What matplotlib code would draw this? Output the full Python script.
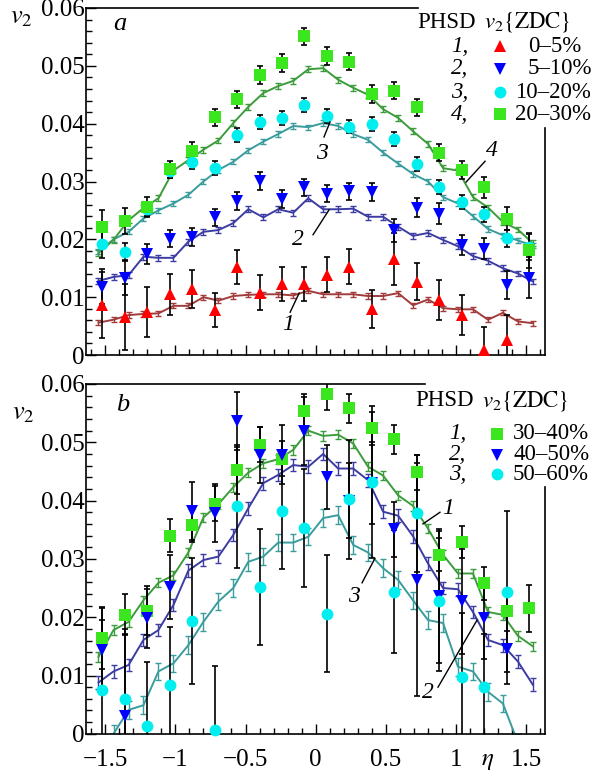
import numpy as np
import matplotlib
matplotlib.use('Agg')
import matplotlib.pyplot as plt
from matplotlib.lines import Line2D
from matplotlib.ticker import FixedLocator, MultipleLocator, FixedFormatter

plt.rcParams['font.family'] = ['Liberation Serif', 'DejaVu Serif']
plt.rcParams['mathtext.fontset'] = 'stix'

nan = np.nan
# ---------------- data ----------------
eta_data = [-1.52, -1.36, -1.20, -1.04, -0.88, -0.72, -0.56, -0.40, -0.24, -0.08,
            0.08, 0.24, 0.40, 0.56, 0.72, 0.88, 1.04, 1.20, 1.36, 1.52]
eta_model = [-1.547, -1.440, -1.333, -1.227, -1.120, -1.013, -0.907, -0.800, -0.693, -0.587,
             -0.480, -0.373, -0.267, -0.160, -0.053, 0.053, 0.160, 0.267, 0.373, 0.480,
             0.587, 0.693, 0.800, 0.907, 1.013, 1.120, 1.227, 1.333, 1.440, 1.547]

# panel a: measured v2{ZDC}
v2_a_0_5 = [0.0087, 0.0066, 0.0074, 0.0105, 0.0114, 0.0078, 0.0152, 0.0108, 0.0123, 0.0123,
            0.0139, 0.0153, 0.0079, 0.0166, 0.0127, 0.0095, 0.0069, 0.0009, 0.0026, nan]
err_a_0_5 = [0.0057, 0.0057, 0.0043, 0.0035, 0.0033, 0.0030, 0.0030, 0.0030, 0.0030, 0.0030,
             0.0030, 0.0030, 0.0033, 0.0045, 0.0032, 0.0035, 0.0034, 0.0040, 0.0043, nan]
v2_a_5_10 = [0.0118, 0.0134, 0.0175, 0.0201, 0.0204, 0.0238, 0.0266, 0.0301, 0.0270, 0.0290,
             0.0279, 0.0283, 0.0282, 0.0216, 0.0255, 0.0244, 0.0190, 0.0184, 0.0121, 0.0134]
err_a_5_10 = [0.0030, 0.0030, 0.0017, 0.0015, 0.0015, 0.0015, 0.0015, 0.0015, 0.0015, 0.0015,
              0.0015, 0.0015, 0.0015, 0.0020, 0.0016, 0.0018, 0.0017, 0.0018, 0.0025, 0.0035]
v2_a_10_20 = [0.0192, 0.0178, 0.0252, 0.0318, 0.0334, 0.0324, 0.0380, 0.0403, 0.0410, 0.0432,
              0.0413, 0.0395, 0.0399, 0.0373, 0.0331, 0.0290, 0.0265, 0.0243, 0.0202, 0.0187]
err_a_10_20 = [0.0025, 0.0015, 0.0012, 0.0012, 0.0012, 0.0012, 0.0012, 0.0012, 0.0012, 0.0012,
               0.0012, 0.0012, 0.0012, 0.0012, 0.0012, 0.0012, 0.0012, 0.0013, 0.0015, 0.0022]
v2_a_20_30 = [0.0221, 0.0232, 0.0256, 0.0321, 0.0353, 0.0411, 0.0442, 0.0484, 0.0505, 0.0551,
              0.0517, 0.0507, 0.0451, 0.0457, 0.0428, 0.0350, 0.0320, 0.0290, 0.0236, 0.0181]
err_a_20_30 = [0.0030, 0.0022, 0.0017, 0.0015, 0.0015, 0.0015, 0.0015, 0.0015, 0.0015, 0.0015,
               0.0015, 0.0015, 0.0015, 0.0015, 0.0015, 0.0015, 0.0015, 0.0018, 0.0020, 0.0030]

# panel a: PHSD model
phsd_a_1 = [0.0056, 0.0061, 0.0069, 0.0071, 0.0072, 0.0085, 0.0085, 0.0100, 0.0094, 0.0102,
            0.0104, 0.0105, 0.0105, 0.0103, 0.0111, 0.0105, 0.0105, 0.0105, 0.0102, 0.0102,
            0.0107, 0.0086, 0.0096, 0.0081, 0.0079, 0.0079, 0.0061, 0.0073, 0.0058, 0.0055]
phsd_a_2 = [0.0128, 0.0135, 0.0138, 0.0170, 0.0168, 0.0168, 0.0196, 0.0213, 0.0216, 0.0228,
            0.0252, 0.0238, 0.0252, 0.0246, 0.0271, 0.0252, 0.0252, 0.0253, 0.0239, 0.0239,
            0.0222, 0.0206, 0.0211, 0.0199, 0.0188, 0.0171, 0.0163, 0.0150, 0.0141, 0.0127]
phsd_a_3 = [0.0179, 0.0200, 0.0213, 0.0236, 0.0250, 0.0262, 0.0277, 0.0300, 0.0320, 0.0334,
            0.0354, 0.0369, 0.0382, 0.0396, 0.0394, 0.0401, 0.0396, 0.0382, 0.0372, 0.0350,
            0.0331, 0.0313, 0.0300, 0.0273, 0.0262, 0.0240, 0.0218, 0.0207, 0.0198, 0.0189]
phsd_a_4 = [0.0176, 0.0199, 0.0233, 0.0254, 0.0271, 0.0319, 0.0337, 0.0355, 0.0371, 0.0401,
            0.0429, 0.0453, 0.0465, 0.0474, 0.0494, 0.0496, 0.0476, 0.0462, 0.0450, 0.0425,
            0.0410, 0.0387, 0.0365, 0.0323, 0.0319, 0.0273, 0.0255, 0.0230, 0.0217, 0.0193]

# panel b: measured v2{ZDC}
v2_b_30_40 = [0.0165, 0.0204, 0.0211, 0.0340, 0.0359, 0.0395, 0.0452, 0.0496, 0.0472, 0.0553,
              0.0582, 0.0558, 0.0524, 0.0505, 0.0449, 0.0307, 0.0329, 0.0258, 0.0211, 0.0215]
err_b_30_40 = [0.0053, 0.0035, 0.0042, 0.0028, 0.0030, 0.0030, 0.0040, 0.0030, 0.0030, 0.0030,
               0.0027, 0.0025, 0.0028, 0.0025, 0.0030, 0.0028, 0.0028, 0.0028, 0.0035, 0.0040]
v2_b_40_50 = [0.0143, 0.0031, 0.0198, 0.0252, 0.0382, 0.0379, 0.0536, 0.0479, 0.0479, 0.0519,
              0.0440, 0.0400, 0.0430, 0.0351, 0.0264, 0.0237, 0.0227, 0.0198, 0.0145, nan]
err_b_40_50 = [0.0072, 0.0140, 0.0050, 0.0055, 0.0050, 0.0050, 0.0050, 0.0048, 0.0050, 0.0058,
               0.0055, 0.0065, 0.0070, 0.0047, 0.0200, 0.0115, 0.0090, 0.0070, 0.0060, nan]
v2_b_50_60 = [0.0075, 0.0060, 0.0013, 0.0083, 0.0194, 0.0007, 0.0390, 0.0252, 0.0382, 0.0353,
              0.0206, 0.0402, 0.0432, 0.0244, 0.0378, 0.0228, 0.0098, 0.0081, 0.0244, nan]
err_b_50_60 = [0.0120, 0.0120, 0.0110, 0.0100, 0.0108, 0.0110, 0.0105, 0.0100, 0.0100, 0.0101,
               0.0100, 0.0102, 0.0130, 0.0105, 0.0100, 0.0120, 0.0110, 0.0090, 0.0138, nan]

# panel b: PHSD model
phsd_b_1 = [0.0132, 0.0178, 0.0192, 0.0229, 0.0259, 0.0272, 0.0311, 0.0371, 0.0394, 0.0423,
            0.0448, 0.0464, 0.0471, 0.0487, 0.0520, 0.0511, 0.0513, 0.0498, 0.0458, 0.0443,
            0.0409, 0.0391, 0.0352, 0.0307, 0.0275, 0.0275, 0.0209, 0.0204, 0.0168, 0.0150]
phsd_b_2 = [0.0088, 0.0107, 0.0118, 0.0161, 0.0178, 0.0221, 0.0280, 0.0298, 0.0304, 0.0341,
            0.0387, 0.0430, 0.0444, 0.0461, 0.0458, 0.0480, 0.0455, 0.0455, 0.0435, 0.0381,
            0.0374, 0.0339, 0.0292, 0.0250, 0.0248, 0.0209, 0.0161, 0.0152, 0.0124, 0.0084]
phsd_b_3 = [-0.0040, 0.0000, 0.0041, 0.0049, 0.0107, 0.0121, 0.0152, 0.0192, 0.0227, 0.0250,
            0.0295, 0.0304, 0.0328, 0.0328, 0.0338, 0.0370, 0.0375, 0.0324, 0.0311, 0.0284,
            0.0264, 0.0229, 0.0195, 0.0190, 0.0115, 0.0107, 0.0072, 0.0052, -0.0015, -0.0060]

x_ticks = [-1.5, -1.0, -0.5, 0.0, 0.5, 1.0, 1.5]
x_ticklabels = ['\u22121.5', '\u22121', '\u22120.5', '0', '0.5', '1', '1.5']
y_ticks = [0, 0.01, 0.02, 0.03, 0.04, 0.05, 0.06]
y_ticklabels = ['0', '0.01', '0.02', '0.03', '0.04', '0.05', '0.06']

labels_a = ['0\u20135%', '5\u201310%', '10\u201320%', '20\u201330%']
labels_b = ['30\u201340%', '40\u201350%', '50\u201360%']

# ---------------- style ----------------
C_RED, C_BLUE, C_CYAN, C_GREEN = '#ff0000', '#0000ff', '#00eeee', '#3ce61e'
M_BROWN, M_BLUE, M_TEAL, M_GREEN = '#a23c3c', '#3c3ca2', '#3a9c9c', '#3c9c3c'

W, H = 595, 774
fig = plt.figure(figsize=(W / 100, H / 100), dpi=100)

def fx(px):
    return px / W

def fy(py):
    return 1 - py / H

ax_a = fig.add_axes([fx(86), fy(355), fx(545) - fx(86), fy(8) - fy(355)])
ax_b = fig.add_axes([fx(86), fy(733.8), fx(545) - fx(86), fy(384) - fy(733.8)])

XL = (-1.636, 1.633)
for ax in (ax_a, ax_b):
    ax.set_xlim(*XL)
    ax.set_ylim(0, 0.06)
    ax.xaxis.set_major_locator(FixedLocator(x_ticks))
    ax.xaxis.set_minor_locator(MultipleLocator(0.1))
    ax.yaxis.set_major_locator(FixedLocator(y_ticks))
    ax.yaxis.set_minor_locator(MultipleLocator(0.002))
    ax.yaxis.set_major_formatter(FixedFormatter(y_ticklabels))
    ax.tick_params(which='both', direction='in', top=False, right=False, width=1.0,
                   labelsize=18)
    ax.tick_params(which='major', length=7)
    ax.tick_params(which='minor', length=4.5)
    ax.tick_params(axis='y', pad=1)
    ax.tick_params(axis='x', pad=11)
    for s in ax.spines.values():
        s.set_linewidth(1.2)

ax_a.set_xticklabels([])
ax_b.xaxis.set_major_formatter(FixedFormatter(x_ticklabels))
ax_a.spines['top'].set_bounds(XL[0], 0.729)
ax_a.spines['right'].set_bounds(0, 0.0393)
ax_b.spines['top'].set_bounds(XL[0], 0.778)
ax_b.spines['right'].set_bounds(0, 0.0423)


def model(ax, y, color, err):
    ax.errorbar(eta_model, y, yerr=err, color=color, lw=1.4, elinewidth=1.0,
                capsize=2.0, capthick=1.0, zorder=2)


def data(ax, y, err, color, marker, ms):
    ax.errorbar(eta_data, y, yerr=err, fmt='none', ecolor='black', elinewidth=1.2,
                capsize=2.0, capthick=1.2, zorder=3)
    ax.plot(eta_data, y, linestyle='none', marker=marker, ms=ms, color=color,
            markeredgewidth=0, zorder=4, clip_on=False)


# panel a
model(ax_a, phsd_a_1, M_BROWN, 0.00045)
model(ax_a, phsd_a_2, M_BLUE, 0.0005)
model(ax_a, phsd_a_3, M_TEAL, 0.00045)
model(ax_a, phsd_a_4, M_GREEN, 0.0005)
data(ax_a, v2_a_0_5, err_a_0_5, C_RED, '^', 9)
data(ax_a, v2_a_5_10, err_a_5_10, C_BLUE, 'v', 9)
data(ax_a, v2_a_10_20, err_a_10_20, C_CYAN, 'o', 8.5)
data(ax_a, v2_a_20_30, err_a_20_30, C_GREEN, 's', 8)

# panel b
model(ax_b, phsd_b_1, M_GREEN, 0.0008)
model(ax_b, phsd_b_2, M_BLUE, 0.0011)
model(ax_b, phsd_b_3, M_TEAL, 0.0015)
data(ax_b, v2_b_30_40, err_b_30_40, C_GREEN, 's', 8)
data(ax_b, v2_b_40_50, err_b_40_50, C_BLUE, 'v', 9)
data(ax_b, v2_b_50_60, err_b_50_60, C_CYAN, 'o', 8.5)

# curve labels with leader lines
def curve_label(ax, txt, pos, p0, p1):
    ax.text(pos[0], pos[1], txt, fontsize=17, style='italic', ha='center', va='center',
            zorder=6)
    ax.plot([p0[0], p1[0]], [p0[1], p1[1]], color='black', lw=1.0, zorder=6)

curve_label(ax_a, '1', (-0.197, 0.0052), (-0.182, 0.0074), (-0.118, 0.0107))
curve_label(ax_a, '2', (-0.125, 0.0199), (-0.019, 0.0208), (0.095, 0.0251))
curve_label(ax_a, '3', (0.045, 0.0349), (0.059, 0.0377), (0.102, 0.0403))
curve_label(ax_a, '4', (1.256, 0.0353), (1.206, 0.0335), (1.071, 0.0299))
curve_label(ax_b, '1', (0.942, 0.0387), (0.885, 0.0380), (0.764, 0.0360))
curve_label(ax_b, '2', (0.800, 0.0070), (0.871, 0.0080), (1.149, 0.0195))
curve_label(ax_b, '3', (0.272, 0.0235), (0.330, 0.0259), (0.422, 0.0301))

# panel letters and axis labels
fig.text(fx(120), fy(24), 'a', fontsize=19, style='italic', ha='center', va='center')
fig.text(fx(123), fy(405), 'b', fontsize=19, style='italic', ha='center', va='center')
fig.text(fx(21), fy(18), r'$v_2$', fontsize=19, ha='center', va='center')
fig.text(fx(23), fy(414), r'$v_2$', fontsize=19, ha='center', va='center')
fig.text(fx(488), fy(765), r'$\eta$', fontsize=18, ha='center', va='baseline')

# legends
LFS = 16.5
def legend(head_y, rows_y, mark_x, num_x, text_x, labels, markers, colors, sizes):
    fig.text(fx(num_x - 34), fy(head_y), 'PHSD', fontsize=LFS, ha='left', va='center')
    fig.text(fx(num_x + 33), fy(head_y), r'$v_2\{\mathrm{ZDC}\}$', fontsize=LFS,
             ha='left', va='center')
    for i, (ry, lab, m, c, s, tx) in enumerate(zip(rows_y, labels, markers, colors,
                                                    sizes, text_x)):
        fig.text(fx(num_x), fy(ry), f'{i + 1},', fontsize=LFS, style='italic',
                 ha='left', va='center')
        fig.add_artist(Line2D([fx(mark_x)], [fy(ry)], marker=m, ms=s, color=c,
                              markeredgewidth=0, linestyle='none',
                              transform=fig.transFigure))
        fig.text(fx(tx), fy(ry), lab, fontsize=LFS, ha='left', va='center')

legend(22, [46, 69, 92, 114], 500, 451, [528, 528, 515, 515], labels_a,
       ['^', 'v', 'o', 's'], [C_RED, C_BLUE, C_CYAN, C_GREEN], [9, 9, 8.5, 8])
legend(401, [434, 455, 474], 497, 449, [513, 513, 513], labels_b,
       ['s', 'v', 'o'], [C_GREEN, C_BLUE, C_CYAN], [8, 9, 8.5])

fig.savefig('out.png', dpi=100)
